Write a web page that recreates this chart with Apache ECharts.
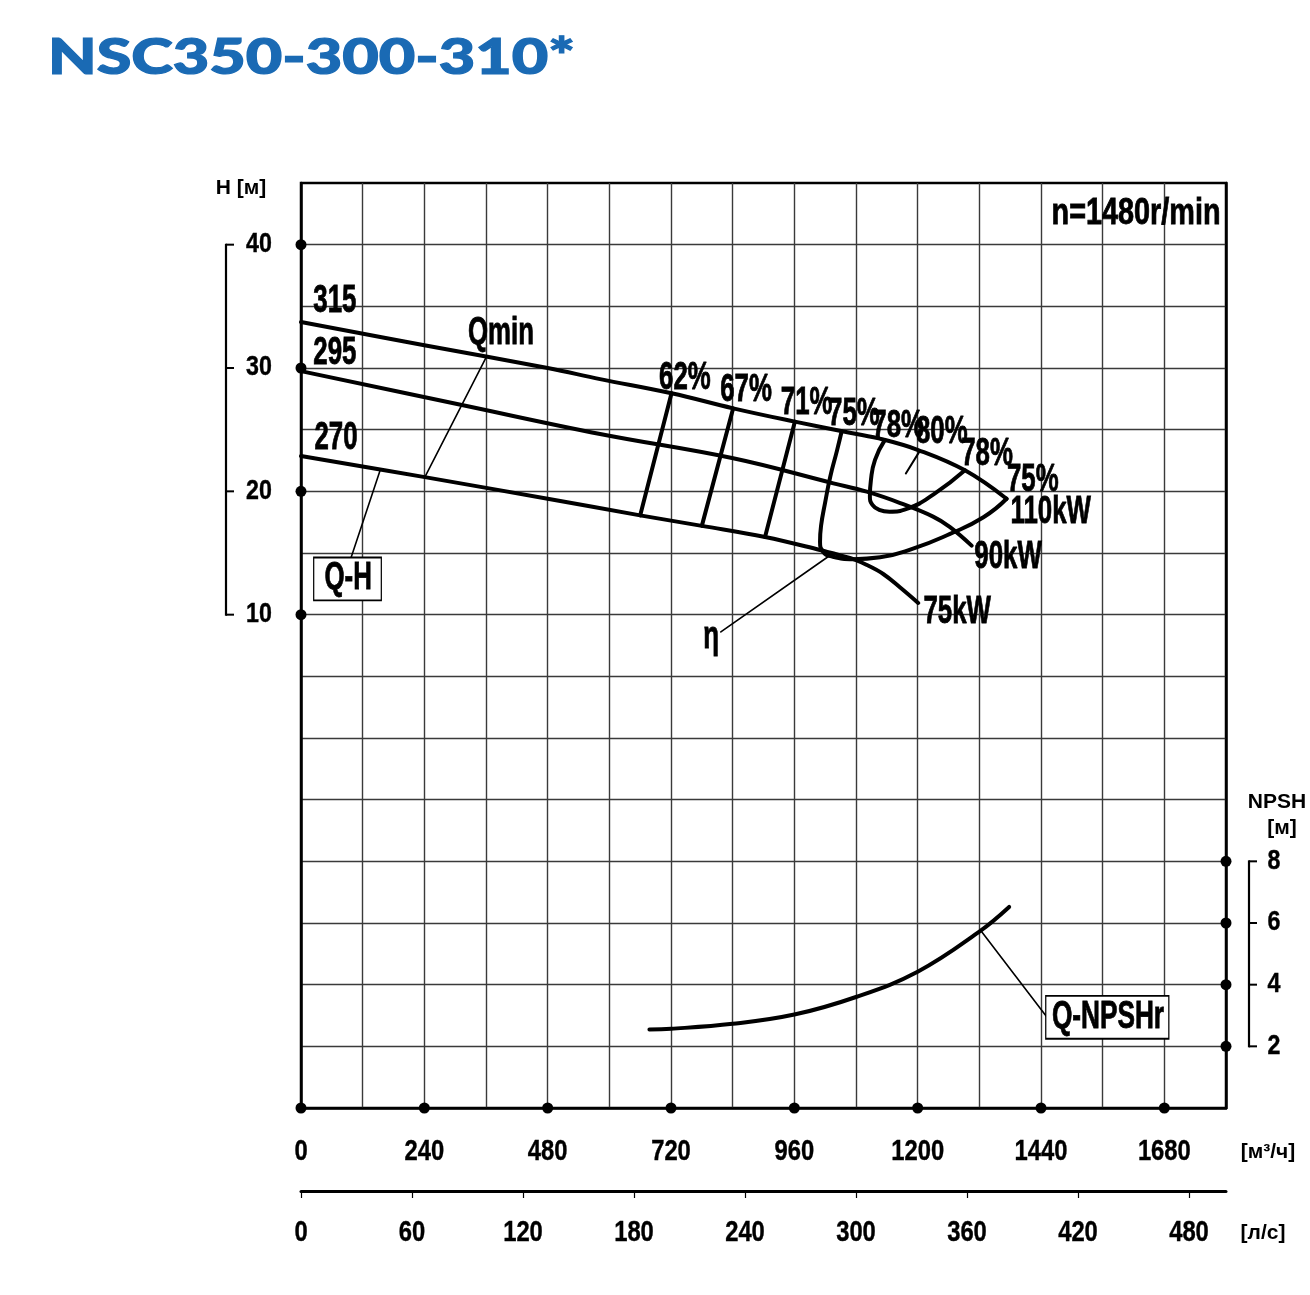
<!DOCTYPE html>
<html><head><meta charset="utf-8">
<script src="https://cdn.jsdelivr.net/npm/echarts@6/dist/echarts.min.js"></script>
<style>html,body{margin:0;padding:0;background:#fff}#c{width:1310px;height:1295px}</style>
</head><body><div id="c"></div>
<script>
// ---------- data ----------
const TITLE = 'NSC350-300-310*';
const Q_TICKS_M3H = [0, 240, 480, 720, 960, 1200, 1440, 1680];
const Q_TICKS_LS = [0, 60, 120, 180, 240, 300, 360, 420, 480];
const H_TICKS = [10, 20, 30, 40];
const NPSH_TICKS = [2, 4, 6, 8];

const QH_315 = [[0,33.73],[240,31.85],[480,30.0],[582,29.1],[721,27.95],[841,26.73],[961,25.65],[1068,24.75],[1133,24.2],[1201,23.35],[1292,21.7],[1373,19.4]];
const QH_295 = [[0,29.75],[313,27.0],[582,24.65],[841,22.68],[1036,20.65],[1101,19.97],[1166,19.05],[1230,17.95],[1263,17.1],[1305,15.6]];
const QH_270 = [[0,22.86],[241,21.15],[480,19.4],[660,18.05],[780,17.2],[903,16.3],[1010,15.24],[1068,14.6],[1100,14.05],[1133,13.3],[1166,12.2],[1201,10.95]];

const EFF_62 = [[721,27.95],[660,18.05]];
const EFF_67 = [[841,26.73],[780,17.2]];
const EFF_71 = [[961,25.65],[903,16.3]];
const EFF_75 = [[1052,24.85],[1043,23.3],[1030,21.2],[1020,19.1],[1012,17.2],[1010,15.9],[1016,15.1],[1030,14.75],[1075,14.5],[1127,14.65],[1191,15.35],[1263,16.55],[1328,17.9],[1373,19.4]];
const EFF_78 = [[1136,24.15],[1117,22.55],[1109,20.9],[1107,19.6],[1112,18.9],[1125,18.5],[1145,18.35],[1180,18.6],[1231,19.75],[1292,21.7]];

const NPSH_R = [[678,2.55],[720,2.57],[840,2.73],[960,3.03],[1080,3.6],[1200,4.42],[1320,5.72],[1378,6.52]];

const PTR_QMIN = [[361,30.92],[241,21.15]];
const PTR_QH = [[154,21.7],[97,14.57]];
const PTR_ETA = [[817,8.6],[1036,15.0]];
const PTR_80 = [[1203,23.2],[1177,21.45]];
const PTR_NPSH = [[1322,5.77],[1451,2.96]];

const LABEL_TEXT = ['315','295','270','Qmin','62%','67%','71%','75%','78%','80%','78%','75%','110kW','90kW','75kW','η','n=1480r/min'];
const LABEL_Q    = [66, 66, 68, 389, 747, 866, 984, 1076, 1162, 1247, 1335, 1424, 1459, 1376, 1277, 798, 1625];
const LABEL_H    = [35.6, 31.4, 24.5, 33.0, 29.4, 28.4, 27.4, 26.5, 25.5, 25.05, 23.2, 21.15, 18.5, 14.9, 10.45, 8.4, 42.75];

const BOX_H_TEXT = ['Q-H'];      const BOX_H_Q = [90.5];  const BOX_H_V = [12.9];
const BOX_N_TEXT = ['Q-NPSHr'];  const BOX_N_Q = [1569];  const BOX_N_V = [2.94];

// ---------- styles ----------
const FONT = '"Liberation Sans", Arial, sans-serif';
const LABEL_STYLE = {
  default: {size: 38, sx: 0.68, sy: 1},
  'n=1480r/min': {size: 36, sx: 0.80, sy: 1}
};
const BOX_STYLE = {
  'Q-H': {size: 38, sx: 0.68, pad: [2, 13, 1, 15]},
  'Q-NPSHr': {size: 38, sx: 0.69, pad: [2, 6, 1, 8]}
};
const GRID_COLOR = '#3a3a3a';

function lineSeries(data, width, yIdx, smooth) {
  return {type: 'line', data: data, xAxisIndex: 0, yAxisIndex: yIdx || 0, smooth: smooth === undefined ? 0.4 : smooth,
    showSymbol: false, silent: true, z: 3, lineStyle: {color: '#000', width: width, cap: 'round', join: 'round'}};
}

function txtStyle(text, font, align) {
  return {text: text, font: font, fill: '#000', align: align || 'center', verticalAlign: 'middle',
    textAlign: align || 'center', textVerticalAlign: 'middle'};
}

// axis tick labels drawn through the axes' own coordinate mapping
function tickLabelSeries(values, xIdx, yIdx, fixed, isX, dx, dy, size, sx) {
  return {type: 'custom', xAxisIndex: xIdx, yAxisIndex: yIdx, silent: true, z: 6,
    data: values.map(function (v) { return isX ? [v, fixed] : [fixed, v]; }),
    renderItem: function (params, api) {
      const p = api.coord([api.value(0), api.value(1)]);
      const v = isX ? api.value(0) : api.value(1);
      const st = txtStyle(String(v), 'bold ' + size + 'px ' + FONT);
      st.stroke = '#000'; st.lineWidth = 0.4;
      return {type: 'text', x: p[0] + dx, y: p[1] + dy, scaleX: sx, scaleY: 1, style: st};
    }};
}

function bracketSeries(ticks, yIdx, xVal, dx) {
  return {type: 'custom', xAxisIndex: 0, yAxisIndex: yIdx, silent: true, z: 4,
    data: ticks.map(function (t) { return [xVal, t]; }),
    renderItem: function (params, api) {
      const p = api.coord([api.value(0), api.value(1)]);
      const x = p[0] + dx;
      const ch = [{type: 'line', shape: {x1: x, y1: p[1], x2: x + 8, y2: p[1]}, style: {stroke: '#000', lineWidth: 2}}];
      if (params.dataIndex === 0) {
        const a = api.coord([xVal, Math.max.apply(null, ticks)]);
        const b = api.coord([xVal, Math.min.apply(null, ticks)]);
        ch.push({type: 'line', shape: {x1: x, y1: a[1] - 1, x2: x, y2: b[1] + 1}, style: {stroke: '#000', lineWidth: 2.2}});
      }
      return {type: 'group', children: ch};
    }};
}

function labelSeries(texts, qs, vs, yIdx, boxed) {
  return {type: 'custom', xAxisIndex: 0, yAxisIndex: yIdx, silent: true, z: 6,
    data: texts.map(function (t, i) { return [qs[i], vs[i]]; }),
    renderItem: function (params, api) {
      const p = api.coord([api.value(0), api.value(1)]);
      const t = texts[params.dataIndex];
      const st = boxed ? BOX_STYLE[t] : (LABEL_STYLE[t] || LABEL_STYLE.default);
      const style = txtStyle(t, 'bold ' + st.size + 'px ' + FONT);
      style.stroke = '#000'; style.lineWidth = 0.8;
      if (boxed) {
        style.backgroundColor = '#fff'; style.borderColor = '#000'; style.borderWidth = 1.8;
        style.padding = st.pad; style.lineHeight = 38;
      }
      return {type: 'text', x: p[0], y: p[1] + (boxed ? 0 : 3), scaleX: st.sx, scaleY: st.sy || 1, style: style};
    }};
}

// title scale to match width
const TITLE_FONT = '900 50px Lato, "Liberation Sans", sans-serif';
const mctx = document.createElement('canvas').getContext('2d');
mctx.font = TITLE_FONT;
const titleSx = 527 / mctx.measureText(TITLE).width;

const chart = echarts.init(document.getElementById('c'), null, {renderer: 'canvas'});
const noLabel = {show: false};
const option = {
  animation: false,
  backgroundColor: '#fff',
  grid: {left: 301, top: 183, width: 925, height: 925, show: true, borderColor: '#000', borderWidth: 2.5, backgroundColor: 'transparent'},
  xAxis: [
    {type: 'value', min: 0, max: 1800, interval: 120, position: 'bottom',
      axisLine: {show: true, onZero: false, lineStyle: {color: '#000', width: 2.5}},
      axisTick: {show: false},
      splitLine: {show: true, showMinLine: false, showMaxLine: false, lineStyle: {color: GRID_COLOR, width: 1.4}},
      axisLabel: noLabel},
    {type: 'value', min: 0, max: 500, interval: 60, position: 'bottom', offset: 83,
      axisLine: {show: true, onZero: false, lineStyle: {color: '#000', width: 3}},
      axisTick: {show: true, length: 7, customValues: Q_TICKS_LS, lineStyle: {color: '#000', width: 1.2}},
      splitLine: {show: false},
      axisLabel: noLabel}
  ],
  yAxis: [
    {type: 'value', min: -30, max: 45, interval: 5, position: 'left',
      axisLine: {show: true, onZero: false, lineStyle: {color: '#000', width: 2.5}},
      axisTick: {show: false},
      splitLine: {show: true, showMinLine: false, showMaxLine: false, lineStyle: {color: GRID_COLOR, width: 1.4}},
      axisLabel: noLabel},
    {type: 'value', min: 0, max: 30, interval: 2, position: 'right',
      axisLine: {show: true, onZero: false, lineStyle: {color: '#000', width: 2.5}},
      axisTick: {show: false},
      splitLine: {show: false},
      axisLabel: noLabel}
  ],
  graphic: [
    {type: 'text', x: 48, y: 58, scaleX: titleSx, scaleY: 1,
      style: {text: TITLE, font: TITLE_FONT, fill: '#1a6ab4', stroke: '#1a6ab4', lineWidth: 1.2, align: 'left', verticalAlign: 'middle', textAlign: 'left', textVerticalAlign: 'middle'}},
    {type: 'text', x: 241, y: 188, style: txtStyle('H [м]', 'bold 21px ' + FONT)},
    {type: 'text', x: 1277, y: 802, style: txtStyle('NPSH', 'bold 21px ' + FONT)},
    {type: 'text', x: 1282, y: 828, style: txtStyle('[м]', 'bold 21px ' + FONT)},
    {type: 'text', x: 1268, y: 1152, style: txtStyle('[м³/ч]', 'bold 21px ' + FONT)},
    {type: 'text', x: 1263, y: 1233, style: txtStyle('[л/с]', 'bold 21px ' + FONT)}
  ],
  series: [
    lineSeries(QH_315, 4),
    lineSeries(QH_295, 4),
    lineSeries(QH_270, 4),
    lineSeries(EFF_62, 4, 0, false),
    lineSeries(EFF_67, 4, 0, false),
    lineSeries(EFF_71, 4, 0, false),
    lineSeries(EFF_75, 4, 0, 0.5),
    lineSeries(EFF_78, 4, 0, 0.5),
    lineSeries(NPSH_R, 4, 1, 0.4),
    lineSeries(PTR_QMIN, 1.6, 0, false),
    lineSeries(PTR_QH, 1.6, 0, false),
    lineSeries(PTR_ETA, 1.6, 0, false),
    lineSeries(PTR_80, 2, 0, false),
    lineSeries(PTR_NPSH, 1.6, 1, false),
    {type: 'scatter', xAxisIndex: 0, yAxisIndex: 0, clip: false, silent: true, z: 5, symbolSize: 11, itemStyle: {color: '#000', opacity: 1},
      data: H_TICKS.map(function (h) { return [0, h]; }).concat(Q_TICKS_M3H.map(function (q) { return [q, -30]; }))},
    {type: 'scatter', xAxisIndex: 0, yAxisIndex: 1, clip: false, silent: true, z: 5, symbolSize: 11, itemStyle: {color: '#000', opacity: 1},
      data: NPSH_TICKS.map(function (n) { return [1800, n]; })},
    bracketSeries(H_TICKS, 0, 0, -75),
    bracketSeries(NPSH_TICKS, 1, 1800, 23),
    tickLabelSeries(Q_TICKS_M3H, 0, 0, -30, true, 0, 44, 29, 0.82),
    tickLabelSeries(Q_TICKS_LS, 1, 0, -30, true, 0, 125, 29, 0.82),
    tickLabelSeries(H_TICKS, 0, 0, 0, false, -42, 0, 27, 0.86),
    tickLabelSeries(NPSH_TICKS, 0, 1, 1800, false, 48, 0, 27, 0.86),
    labelSeries(LABEL_TEXT, LABEL_Q, LABEL_H, 0, false),
    labelSeries(BOX_H_TEXT, BOX_H_Q, BOX_H_V, 0, true),
    labelSeries(BOX_N_TEXT, BOX_N_Q, BOX_N_V, 1, true)
  ]
};
chart.setOption(option);
</script></body></html>
